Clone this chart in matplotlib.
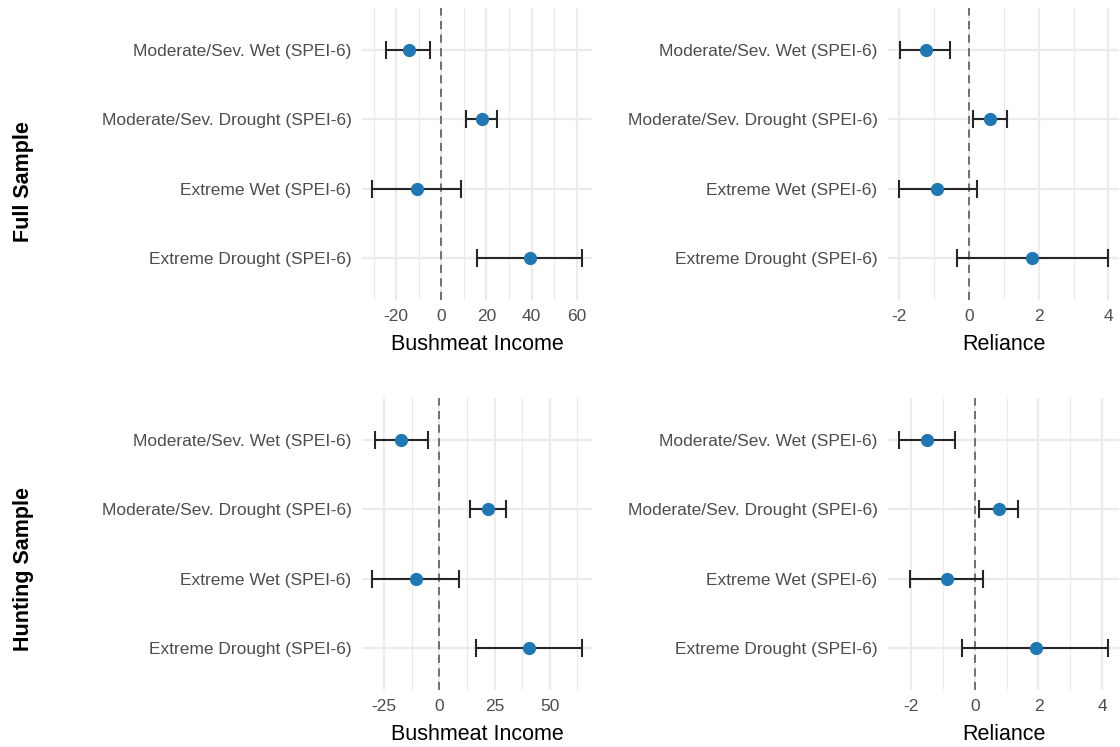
import numpy as np
import matplotlib
matplotlib.use("Agg")
import matplotlib.pyplot as plt
from matplotlib.ticker import MultipleLocator

plt.rcParams['font.family'] = ['Liberation Sans', 'DejaVu Sans']
plt.rcParams['axes.unicode_minus'] = False

# categorias, de abajo hacia arriba
categorias = ['Extreme Drought (SPEI-6)', 'Extreme Wet (SPEI-6)',
              'Moderate/Sev. Drought (SPEI-6)', 'Moderate/Sev. Wet (SPEI-6)']

# Full Sample - Bushmeat Income
full_ingreso = [39.1, -10.8, 17.8, -14.5]
full_ingreso_lo = [15.9, -30.5, 10.8, -24.4]
full_ingreso_hi = [62.1, 8.7, 24.7, -4.9]

# Full Sample - Reliance
full_dep = [1.82, -0.91, 0.61, -1.23]
full_dep_lo = [-0.34, -2.02, 0.13, -1.97]
full_dep_hi = [4.00, 0.22, 1.09, -0.53]

# Hunting Sample - Bushmeat Income
caza_ingreso = [40.6, -10.6, 22.1, -17.4]
caza_ingreso_lo = [16.7, -30.3, 14.1, -29.1]
caza_ingreso_hi = [64.4, 9.1, 30.0, -5.3]

# Hunting Sample - Reliance
caza_dep = [1.91, -0.89, 0.75, -1.52]
caza_dep_lo = [-0.39, -2.05, 0.14, -2.40]
caza_dep_hi = [4.20, 0.26, 1.37, -0.63]

W, H = 1120, 747
fig = plt.figure(figsize=(W / 100, H / 100), dpi=100)
fig.patch.set_facecolor('white')

azul = '#1f78b4'
gris_grid = '#ebebeb'


def panel(px, py, pw, ph, est, lo, hi, xlabel, mayor, menor):
    ax = fig.add_axes([px / W, 1 - (py + ph) / H, pw / W, ph / H])
    y = np.arange(len(categorias))
    est = np.array(est)
    err = [est - np.array(lo), np.array(hi) - est]
    ax.axvline(0, color='#666666', ls=(0, (4.5, 3)), lw=1.3, zorder=2)
    ax.errorbar(est, y, xerr=err, fmt='none', ecolor='#262626',
                elinewidth=1.5, capsize=6.8, capthick=1.5, zorder=3)
    ax.plot(est, y, 'o', color=azul, ms=8.5, zorder=4)
    ax.set_yticks(y)
    ax.set_yticklabels(categorias)
    ax.set_ylim(-0.6, len(categorias) - 0.4)
    # expansion del 5% como en ggplot
    ax.set_xlim(min(lo) - 0.05 * (max(hi) - min(lo)),
                max(hi) + 0.05 * (max(hi) - min(lo)))
    ax.xaxis.set_major_locator(MultipleLocator(mayor))
    ax.xaxis.set_minor_locator(MultipleLocator(menor))
    ax.grid(which='major', color=gris_grid, lw=1.6)
    ax.grid(which='minor', axis='x', color=gris_grid, lw=0.9)
    ax.set_axisbelow(True)
    for s in ax.spines.values():
        s.set_visible(False)
    ax.tick_params(which='both', length=0)
    ax.tick_params(axis='y', pad=7.5, labelsize=12.5, labelcolor='#4d4d4d')
    ax.tick_params(axis='x', pad=6.5, labelsize=12.5, labelcolor='#4d4d4d')
    ax.set_xlabel(xlabel, fontsize=15.5, color='black', labelpad=7)
    return ax


panel(362, 8, 230, 292, full_ingreso, full_ingreso_lo, full_ingreso_hi,
      'Bushmeat Income', 20, 10)
panel(888, 8, 231, 292, full_dep, full_dep_lo, full_dep_hi,
      'Reliance', 2, 1)
panel(362, 398, 230, 292, caza_ingreso, caza_ingreso_lo, caza_ingreso_hi,
      'Bushmeat Income', 25, 12.5)
panel(888, 398, 231, 292, caza_dep, caza_dep_lo, caza_dep_hi,
      'Reliance', 2, 1)

fig.text(24 / W, 1 - 182 / H, 'Full Sample', rotation=90, ha='center',
         va='center', fontsize=15.5, fontweight='bold')
fig.text(24 / W, 1 - 569 / H, 'Hunting Sample', rotation=90, ha='center',
         va='center', fontsize=15.5, fontweight='bold')

fig.savefig('out.png', dpi=100)
